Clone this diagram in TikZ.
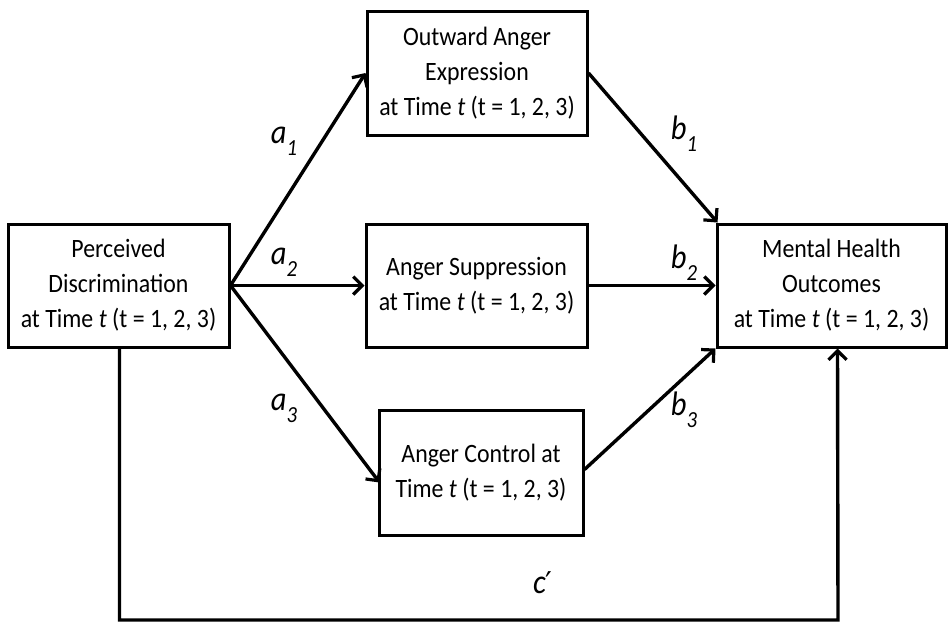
\documentclass[tikz,border=0pt]{standalone}
\usepackage{fontspec}
\setmainfont{Carlito}[FakeStretch=0.9]
\newfontfamily\primefont{DejaVu Sans}
\usetikzlibrary{arrows.meta,calc}
\newcommand{\subnum}[1]{\raisebox{-0.35em}{\fontsize{23}{23}\selectfont #1}}
\begin{document}
\begin{tikzpicture}[x=1pt,y=-1pt,
  box/.style={draw,line width=3pt,rectangle,align=center,inner sep=0pt,font=\fontsize{26.5}{35}\selectfont},
  conn/.style={line width=3.4pt,-{Straight Barb[length=9pt,width=18pt,line width=3.2pt]}},
  lbl/.style={font=\fontsize{34}{36}\selectfont\itshape}]
\useasboundingbox (0,0) rectangle (952,625);
\node[box,minimum width=221pt,minimum height=123pt] (P) at (118.5,285.5) {Perceived\\Discrimination\\at Time \textit{t} (t = 1, 2, 3)};
\node[box,minimum width=220pt,minimum height=124pt] (O) at (477,73) {Outward Anger\\Expression\\at Time \textit{t} (t = 1, 2, 3)};
\node[box,minimum width=221pt,minimum height=123pt] (S) at (476.5,285.5) {Anger Suppression\\at Time \textit{t} (t = 1, 2, 3)};
\node[box,minimum width=204pt,minimum height=125pt] (C) at (481,472.5) {Anger Control at\\Time \textit{t} (t = 1, 2, 3)};
\node[box,minimum width=229pt,minimum height=123pt] (M) at (831.5,285.5) {Mental Health\\Outcomes\\at Time \textit{t} (t = 1, 2, 3)};
\coordinate (c3) at ($(C.west)+(2,10)$);
\coordinate (cb1) at ($(M.north west)+(2,0)$);
\coordinate (cb3) at ($(C.east)+(0,-3)$);
\coordinate (pb) at ($(P.south)+(1,0)$);
\coordinate (mb) at ($(M.south)+(6,0)$);
\coordinate (bl) at (120,620);
\coordinate (br) at (838,620);
\draw[conn] (P.east) -- (O.west);
\draw[conn] (P.east) -- (S.west);
\draw[conn] (P.east) -- (c3);
\draw[conn] (O.east) -- (cb1);
\draw[conn] (S.east) -- (M.west);
\draw[conn] (cb3) -- (M.south west);
\draw[conn] (pb) |- (bl) -- (br) -- (mb);
\node[lbl] (la1) at (284,141) {a\subnum{1}};
\node[lbl] (la2) at (284,262) {a\subnum{2}};
\node[lbl] (la3) at (284,408) {a\subnum{3}};
\node[lbl] (lb1) at (684,134) {b\subnum{1}};
\node[lbl] (lb2) at (684,263) {b\subnum{2}};
\node[lbl] (lb3) at (684,410) {b\subnum{3}};
\node[lbl] (lc) at (543,583) {c{\primefont\upshape\fontsize{30}{30}\selectfont ′}};
\end{tikzpicture}
\end{document}
